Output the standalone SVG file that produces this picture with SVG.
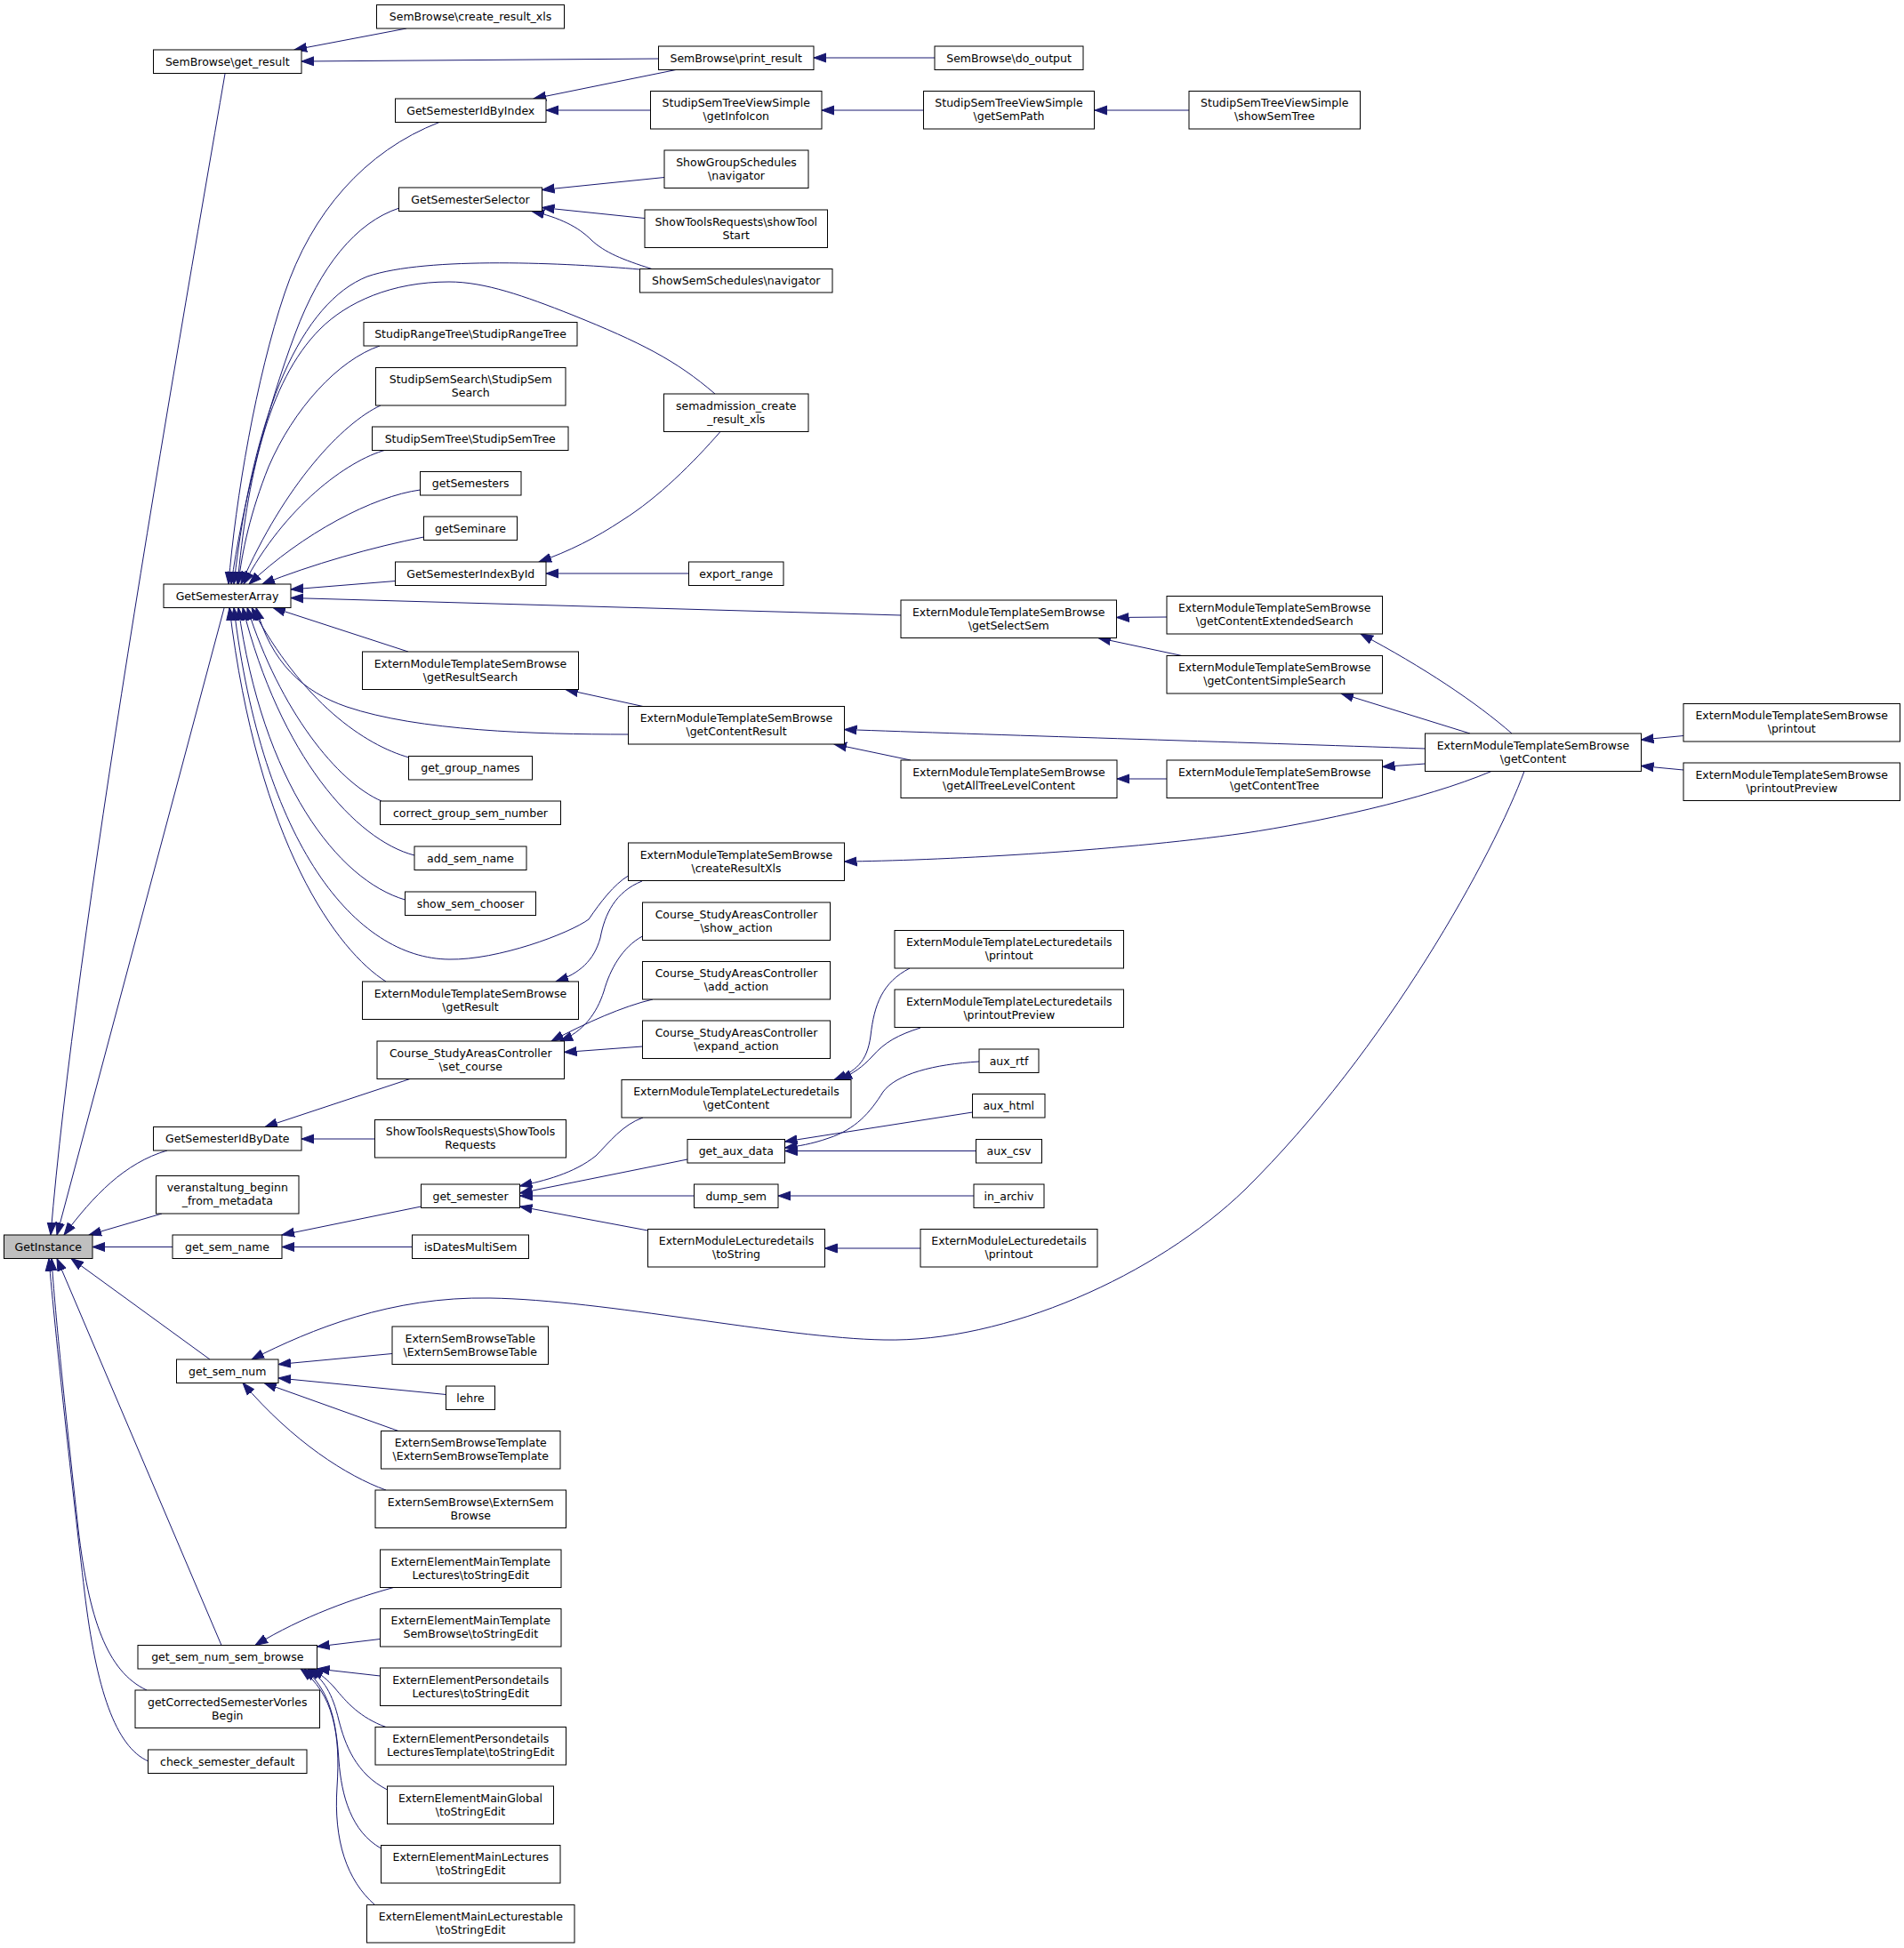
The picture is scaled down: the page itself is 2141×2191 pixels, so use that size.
<svg xmlns="http://www.w3.org/2000/svg" width="2141" height="2191" viewBox="0 0 2141 2191">
<defs>
<marker id="ah" markerUnits="userSpaceOnUse" markerWidth="16" markerHeight="12" viewBox="0 -6 16 12" refX="14" refY="0" orient="auto"><path d="M0,-5 L14,0 L0,5 Z" fill="#191970" stroke="#191970" stroke-width="1"/></marker>
<style>
.n rect{fill:#fff;stroke:#000;stroke-width:1}
.g rect{fill:#bfbfbf;stroke:#000;stroke-width:1}
text{font-family:"DejaVu Sans","Liberation Sans",sans-serif;font-size:12.5px;text-anchor:middle;fill:#000}
.e path{fill:none;stroke:#191970;stroke-width:1;marker-end:url(#ah)}
</style>
</defs>
<rect width="2141" height="2191" fill="#fff"/>
<g id="edges" class="e">
<path d="M253,83 C195,420 85,1050 57,1389"/>
<path d="M252,684 L64,1389"/>
<path d="M188,1294 C140,1308 105,1345 72,1389"/>
<path d="M182,1365 L100,1389"/>
<path d="M194,1402.5 L104,1402.5"/>
<path d="M236,1529 L80,1415.5"/>
<path d="M249,1850.5 L64,1415.5"/>
<path d="M165,1901 C120,1880 100,1820 88,1720 C75,1600 62,1480 58,1415.5"/>
<path d="M167,1981 C130,1965 108,1900 95,1790 C82,1680 62,1500 55,1415.5"/>
<path d="M457,32 L331,56"/>
<path d="M740.5,66 L339,69"/>
<path d="M1051,65 L915,65"/>
<path d="M760,78.5 L600,111"/>
<path d="M731.5,124 L614,124"/>
<path d="M1038.5,124 L924,124"/>
<path d="M1337,124 L1231,124"/>
<path d="M747,199.5 L609.5,213.5"/>
<path d="M725,245.5 L609.5,233.5"/>
<path d="M733,302.5 C700,292 680,284 665,270 C650,255 630,245 598,237.5"/>
<path d="M494,137.5 C410,170 350,240 320,330 C288,425 265,560 257,657"/>
<path d="M449,234 C400,250 360,300 332,375 C300,460 272,570 260,657"/>
<path d="M719.5,303 C640,296 480,288 413,311 C340,340 285,460 263,657"/>
<path d="M804,443 C760,405 720,385 643,354 C590,333 545,317 505,317 C440,317 390,340 360,370 C300,430 278,540 267,657"/>
<path d="M427,389 C380,405 330,460 302,525 C282,575 272,620 268,657"/>
<path d="M428,456 C385,476 320,545 271,657"/>
<path d="M434,506 C390,518 320,570 274,657"/>
<path d="M472.5,551 C420,558 340,600 280,657"/>
<path d="M476.5,604 C420,615 350,635 295,657"/>
<path d="M444.5,653.5 L327,663"/>
<path d="M1013,692 L327,672.5"/>
<path d="M459,733 L307,683.5"/>
<path d="M706.5,826 C600,826 470,822 390,795 C340,778 305,745 288,683.5"/>
<path d="M460,852 C410,838 340,790 283,683.5"/>
<path d="M429,901 C380,880 315,800 278,683.5"/>
<path d="M466,962 C400,945 315,850 273,683.5"/>
<path d="M455.5,1012 C380,990 295,880 268,683.5"/>
<path d="M706.5,985 C690,995 675,1015 662,1034 C640,1050 560,1080 505,1079 C400,1078 295,950 263,683.5"/>
<path d="M434,1104 C380,1070 290,950 258,683.5"/>
<path d="M722,991 C692,1003 680,1028 675,1055 C668,1080 652,1095 625,1104"/>
<path d="M723,794.5 L636,775.5"/>
<path d="M1602.5,842 C1400,835 1100,826 949.5,820.5"/>
<path d="M1024,855 L938,837"/>
<path d="M1312,876 L1256,876"/>
<path d="M1602.5,859 L1554.5,862.5"/>
<path d="M1677,867.5 C1600,900 1480,925 1400,937 C1250,958 1050,968 949.5,969"/>
<path d="M1893,827.5 L1845.5,832"/>
<path d="M1893,866 L1845.5,861.5"/>
<path d="M1700,825 C1660,790 1600,750 1530,713"/>
<path d="M1653,825 L1508,780"/>
<path d="M1312,694 L1255.5,694.5"/>
<path d="M1329,737.5 L1235,717.5"/>
<path d="M461,1213.5 L298,1267.5"/>
<path d="M421.5,1281 L339,1281"/>
<path d="M722.5,1053 C700,1065 686,1090 679,1115 C671,1140 656,1160 630,1171"/>
<path d="M734,1124 C700,1132 660,1150 620,1171"/>
<path d="M722.5,1177 L634.5,1183.5"/>
<path d="M473.5,1357 L317,1389"/>
<path d="M463.5,1402.5 L317,1402.5"/>
<path d="M723,1257 C700,1265 685,1285 670,1300 C645,1320 612,1328 584.5,1334"/>
<path d="M773,1304 L584.5,1342"/>
<path d="M780.5,1345 L584.5,1345"/>
<path d="M728.5,1384 L584.5,1357"/>
<path d="M1023,1089 C992,1105 983,1130 979,1165 C975,1195 962,1205 938,1214.5"/>
<path d="M1035,1156 C1010,1164 995,1172 981,1188 C970,1200 960,1207 944,1214.5"/>
<path d="M1101,1194 C1050,1197 1008,1208 993,1228 C978,1252 962,1270 932,1280 C912,1287 898,1289 882.5,1291"/>
<path d="M1093.5,1251 L882.5,1284"/>
<path d="M1097.5,1294.5 L882.5,1294.5"/>
<path d="M1095,1345 L875,1345"/>
<path d="M1035,1404 L927.5,1404"/>
<path d="M1714,867.5 C1680,960 1560,1180 1400,1338 C1300,1435 1130,1510 994,1507 C880,1505 680,1462 551,1460 C440,1458 350,1495 283,1529"/>
<path d="M441,1522.5 L313,1534.5"/>
<path d="M501.5,1568.5 L313,1550"/>
<path d="M448,1609.5 L297,1555.5"/>
<path d="M434,1676 C390,1660 330,1622 273,1555.5"/>
<path d="M444.5,1785 C400,1797 340,1818 287,1850.5"/>
<path d="M427.5,1843.5 L356.5,1852"/>
<path d="M427.5,1885 L356.5,1877"/>
<path d="M434,1942.5 C405,1932 390,1915 376,1898 C369,1890 361,1883 350,1877"/>
<path d="M435.5,2013 C400,1995 388,1962 381,1935 C374,1905 364,1888 346,1877"/>
<path d="M428.5,2079 C395,2060 384,2020 381,1980 C378,1930 368,1898 342,1877"/>
<path d="M421.5,2142.5 C390,2115 375,2070 379,2010 C383,1950 375,1905 338,1877"/>
<path d="M810,485.5 C780,520 740,560 700,585 C670,605 640,620 606,632"/>
<path d="M774.5,645 L614,645"/>
</g>
<g id="n1" class="n"><rect x="423.5" y="5.5" width="211" height="26.5"/><text x="529" y="23.25">SemBrowse\create_result_xls</text></g>
<g id="n2" class="n"><rect x="172.5" y="56" width="166.5" height="26.5"/><text x="255.75" y="73.75">SemBrowse\get_result</text></g>
<g id="n3" class="n"><rect x="444.5" y="111" width="169.5" height="26.5"/><text x="529.25" y="128.75">GetSemesterIdByIndex</text></g>
<g id="n4" class="n"><rect x="448.5" y="211" width="161" height="26.5"/><text x="529" y="228.75">GetSemesterSelector</text></g>
<g id="n5" class="n"><rect x="409" y="362.5" width="240" height="26.5"/><text x="529" y="380.25">StudipRangeTree\StudipRangeTree</text></g>
<g id="n6" class="n"><rect x="422.5" y="413.5" width="213.5" height="42.5"/><text x="529.25" y="431.25">StudipSemSearch\StudipSem</text><text x="529.25" y="446.25">Search</text></g>
<g id="n7" class="n"><rect x="418.5" y="480" width="220.5" height="26.5"/><text x="528.75" y="497.75">StudipSemTree\StudipSemTree</text></g>
<g id="n8" class="n"><rect x="472.5" y="530.5" width="113.5" height="26.5"/><text x="529.25" y="548.25">getSemesters</text></g>
<g id="n9" class="n"><rect x="476.5" y="581" width="105" height="26.5"/><text x="529" y="598.75">getSeminare</text></g>
<g id="n10" class="n"><rect x="444.5" y="632" width="169.5" height="26.5"/><text x="529.25" y="649.75">GetSemesterIndexById</text></g>
<g id="n11" class="n"><rect x="184" y="657" width="143" height="26.5"/><text x="255.5" y="674.75">GetSemesterArray</text></g>
<g id="n12" class="n"><rect x="407.5" y="733" width="243" height="42.5"/><text x="529" y="750.75">ExternModuleTemplateSemBrowse</text><text x="529" y="765.75">\getResultSearch</text></g>
<g id="n13" class="n"><rect x="740.5" y="52" width="174.5" height="26.5"/><text x="827.75" y="69.75">SemBrowse\print_result</text></g>
<g id="n14" class="n"><rect x="1051" y="52" width="167" height="26.5"/><text x="1134.5" y="69.75">SemBrowse\do_output</text></g>
<g id="n15" class="n"><rect x="731.5" y="102.5" width="192.5" height="42.5"/><text x="827.75" y="120.25">StudipSemTreeViewSimple</text><text x="827.75" y="135.25">\getInfoIcon</text></g>
<g id="n16" class="n"><rect x="1038.5" y="102.5" width="192" height="42.5"/><text x="1134.5" y="120.25">StudipSemTreeViewSimple</text><text x="1134.5" y="135.25">\getSemPath</text></g>
<g id="n17" class="n"><rect x="1337" y="102.5" width="192.5" height="42.5"/><text x="1433.25" y="120.25">StudipSemTreeViewSimple</text><text x="1433.25" y="135.25">\showSemTree</text></g>
<g id="n18" class="n"><rect x="747" y="169" width="162" height="42.5"/><text x="828" y="186.75">ShowGroupSchedules</text><text x="828" y="201.75">\navigator</text></g>
<g id="n19" class="n"><rect x="725" y="236" width="205.5" height="42.5"/><text x="827.75" y="253.75">ShowToolsRequests\showTool</text><text x="827.75" y="268.75">Start</text></g>
<g id="n20" class="n"><rect x="719.5" y="302.5" width="216.5" height="26.5"/><text x="827.75" y="320.25">ShowSemSchedules\navigator</text></g>
<g id="n21" class="n"><rect x="746.5" y="443" width="162.5" height="42.5"/><text x="827.75" y="460.75">semadmission_create</text><text x="827.75" y="475.75">_result_xls</text></g>
<g id="n22" class="n"><rect x="774.5" y="632" width="106.5" height="26.5"/><text x="827.75" y="649.75">export_range</text></g>
<g id="n23" class="n"><rect x="1013" y="675" width="242.5" height="42.5"/><text x="1134.25" y="692.75">ExternModuleTemplateSemBrowse</text><text x="1134.25" y="707.75">\getSelectSem</text></g>
<g id="n24" class="n"><rect x="1312" y="670.5" width="242.5" height="42.5"/><text x="1433.25" y="688.25">ExternModuleTemplateSemBrowse</text><text x="1433.25" y="703.25">\getContentExtendedSearch</text></g>
<g id="n25" class="n"><rect x="1312" y="737.5" width="242.5" height="42.5"/><text x="1433.25" y="755.25">ExternModuleTemplateSemBrowse</text><text x="1433.25" y="770.25">\getContentSimpleSearch</text></g>
<g id="n26" class="n"><rect x="706.5" y="794.5" width="243" height="42.5"/><text x="828" y="812.25">ExternModuleTemplateSemBrowse</text><text x="828" y="827.25">\getContentResult</text></g>
<g id="n27" class="n"><rect x="1013" y="855" width="243" height="42.5"/><text x="1134.5" y="872.75">ExternModuleTemplateSemBrowse</text><text x="1134.5" y="887.75">\getAllTreeLevelContent</text></g>
<g id="n28" class="n"><rect x="1312" y="855" width="242.5" height="42.5"/><text x="1433.25" y="872.75">ExternModuleTemplateSemBrowse</text><text x="1433.25" y="887.75">\getContentTree</text></g>
<g id="n29" class="n"><rect x="706.5" y="948" width="243" height="42.5"/><text x="828" y="965.75">ExternModuleTemplateSemBrowse</text><text x="828" y="980.75">\createResultXls</text></g>
<g id="n30" class="n"><rect x="722.5" y="1015" width="211" height="42.5"/><text x="828" y="1032.75">Course_StudyAreasController</text><text x="828" y="1047.75">\show_action</text></g>
<g id="n31" class="n"><rect x="722.5" y="1081.5" width="211" height="42.5"/><text x="828" y="1099.25">Course_StudyAreasController</text><text x="828" y="1114.25">\add_action</text></g>
<g id="n32" class="n"><rect x="722.5" y="1148" width="211" height="42.5"/><text x="828" y="1165.75">Course_StudyAreasController</text><text x="828" y="1180.75">\expand_action</text></g>
<g id="n33" class="n"><rect x="1006" y="1046.5" width="257.5" height="42.5"/><text x="1134.75" y="1064.25">ExternModuleTemplateLecturedetails</text><text x="1134.75" y="1079.25">\printout</text></g>
<g id="n34" class="n"><rect x="1006" y="1113" width="257.5" height="42.5"/><text x="1134.75" y="1130.75">ExternModuleTemplateLecturedetails</text><text x="1134.75" y="1145.75">\printoutPreview</text></g>
<g id="n35" class="n"><rect x="699" y="1214.5" width="258" height="42.5"/><text x="828" y="1232.25">ExternModuleTemplateLecturedetails</text><text x="828" y="1247.25">\getContent</text></g>
<g id="n36" class="n"><rect x="1101" y="1180" width="67" height="26.5"/><text x="1134.5" y="1197.75">aux_rtf</text></g>
<g id="n37" class="n"><rect x="1093.5" y="1230.5" width="81.5" height="26.5"/><text x="1134.25" y="1248.25">aux_html</text></g>
<g id="n38" class="n"><rect x="1097.5" y="1281.5" width="74" height="26.5"/><text x="1134.5" y="1299.25">aux_csv</text></g>
<g id="n39" class="n"><rect x="773" y="1281.5" width="109.5" height="26.5"/><text x="827.75" y="1299.25">get_aux_data</text></g>
<g id="n40" class="n"><rect x="780.5" y="1332" width="94.5" height="26.5"/><text x="827.75" y="1349.75">dump_sem</text></g>
<g id="n41" class="n"><rect x="1095" y="1332" width="79" height="26.5"/><text x="1134.5" y="1349.75">in_archiv</text></g>
<g id="n42" class="n"><rect x="728.5" y="1382.5" width="199" height="42.5"/><text x="828" y="1400.25">ExternModuleLecturedetails</text><text x="828" y="1415.25">\toString</text></g>
<g id="n43" class="n"><rect x="1035" y="1382.5" width="199" height="42.5"/><text x="1134.5" y="1400.25">ExternModuleLecturedetails</text><text x="1134.5" y="1415.25">\printout</text></g>
<g id="n44" class="n"><rect x="1602.5" y="825" width="243" height="42.5"/><text x="1724" y="842.75">ExternModuleTemplateSemBrowse</text><text x="1724" y="857.75">\getContent</text></g>
<g id="n45" class="n"><rect x="1893" y="791.5" width="243.5" height="42.5"/><text x="2014.75" y="809.25">ExternModuleTemplateSemBrowse</text><text x="2014.75" y="824.25">\printout</text></g>
<g id="n46" class="n"><rect x="1893" y="858" width="243.5" height="42.5"/><text x="2014.75" y="875.75">ExternModuleTemplateSemBrowse</text><text x="2014.75" y="890.75">\printoutPreview</text></g>
<g id="n47" class="n"><rect x="459.5" y="850.5" width="139" height="26.5"/><text x="529" y="868.25">get_group_names</text></g>
<g id="n48" class="n"><rect x="427.5" y="901" width="203" height="26.5"/><text x="529" y="918.75">correct_group_sem_number</text></g>
<g id="n49" class="n"><rect x="466" y="952" width="126" height="26.5"/><text x="529" y="969.75">add_sem_name</text></g>
<g id="n50" class="n"><rect x="455.5" y="1003" width="147" height="26.5"/><text x="529" y="1020.75">show_sem_chooser</text></g>
<g id="n51" class="n"><rect x="407.5" y="1104" width="243" height="42.5"/><text x="529" y="1121.75">ExternModuleTemplateSemBrowse</text><text x="529" y="1136.75">\getResult</text></g>
<g id="n52" class="n"><rect x="424" y="1171" width="210.5" height="42.5"/><text x="529.25" y="1188.75">Course_StudyAreasController</text><text x="529.25" y="1203.75">\set_course</text></g>
<g id="n53" class="n"><rect x="172.5" y="1267.5" width="166.5" height="26.5"/><text x="255.75" y="1285.25">GetSemesterIdByDate</text></g>
<g id="n54" class="n"><rect x="421.5" y="1259.5" width="215" height="42.5"/><text x="529" y="1277.25">ShowToolsRequests\ShowTools</text><text x="529" y="1292.25">Requests</text></g>
<g id="n55" class="n"><rect x="175.5" y="1322.5" width="160.5" height="42.5"/><text x="255.75" y="1340.25">veranstaltung_beginn</text><text x="255.75" y="1355.25">_from_metadata</text></g>
<g id="n56" class="n"><rect x="473.5" y="1332" width="111" height="26.5"/><text x="529" y="1349.75">get_semester</text></g>
<g id="n57" class="g"><rect x="4.5" y="1389" width="99.5" height="26.5"/><text x="54.25" y="1406.75">GetInstance</text></g>
<g id="n58" class="n"><rect x="194" y="1389" width="123" height="26.5"/><text x="255.5" y="1406.75">get_sem_name</text></g>
<g id="n59" class="n"><rect x="463.5" y="1389" width="131" height="26.5"/><text x="529" y="1406.75">isDatesMultiSem</text></g>
<g id="n60" class="n"><rect x="198.5" y="1529" width="114.5" height="26.5"/><text x="255.75" y="1546.75">get_sem_num</text></g>
<g id="n61" class="n"><rect x="441" y="1492" width="175.5" height="42.5"/><text x="528.75" y="1509.75">ExternSemBrowseTable</text><text x="528.75" y="1524.75">\ExternSemBrowseTable</text></g>
<g id="n62" class="n"><rect x="501.5" y="1559" width="55" height="26.5"/><text x="529" y="1576.75">lehre</text></g>
<g id="n63" class="n"><rect x="428.5" y="1609.5" width="201.5" height="42.5"/><text x="529.25" y="1627.25">ExternSemBrowseTemplate</text><text x="529.25" y="1642.25">\ExternSemBrowseTemplate</text></g>
<g id="n64" class="n"><rect x="422" y="1676" width="214.5" height="42.5"/><text x="529.25" y="1693.75">ExternSemBrowse\ExternSem</text><text x="529.25" y="1708.75">Browse</text></g>
<g id="n65" class="n"><rect x="427.5" y="1743" width="203.5" height="42.5"/><text x="529.25" y="1760.75">ExternElementMainTemplate</text><text x="529.25" y="1775.75">Lectures\toStringEdit</text></g>
<g id="n66" class="n"><rect x="427.5" y="1809.5" width="203.5" height="42.5"/><text x="529.25" y="1827.25">ExternElementMainTemplate</text><text x="529.25" y="1842.25">SemBrowse\toStringEdit</text></g>
<g id="n67" class="n"><rect x="155" y="1850.5" width="201.5" height="26.5"/><text x="255.75" y="1868.25">get_sem_num_sem_browse</text></g>
<g id="n68" class="n"><rect x="427.5" y="1876" width="203.5" height="42.5"/><text x="529.25" y="1893.75">ExternElementPersondetails</text><text x="529.25" y="1908.75">Lectures\toStringEdit</text></g>
<g id="n69" class="n"><rect x="152" y="1901" width="207.5" height="42.5"/><text x="255.75" y="1918.75">getCorrectedSemesterVorles</text><text x="255.75" y="1933.75">Begin</text></g>
<g id="n70" class="n"><rect x="422" y="1942.5" width="214.5" height="42.5"/><text x="529.25" y="1960.25">ExternElementPersondetails</text><text x="529.25" y="1975.25">LecturesTemplate\toStringEdit</text></g>
<g id="n71" class="n"><rect x="166.5" y="1968" width="178.5" height="26.5"/><text x="255.75" y="1985.75">check_semester_default</text></g>
<g id="n72" class="n"><rect x="435.5" y="2009" width="187" height="42.5"/><text x="529" y="2026.75">ExternElementMainGlobal</text><text x="529" y="2041.75">\toStringEdit</text></g>
<g id="n73" class="n"><rect x="428.5" y="2075.5" width="201.5" height="42.5"/><text x="529.25" y="2093.25">ExternElementMainLectures</text><text x="529.25" y="2108.25">\toStringEdit</text></g>
<g id="n74" class="n"><rect x="412.5" y="2142.5" width="233.5" height="42.5"/><text x="529.25" y="2160.25">ExternElementMainLecturestable</text><text x="529.25" y="2175.25">\toStringEdit</text></g>
</svg>
